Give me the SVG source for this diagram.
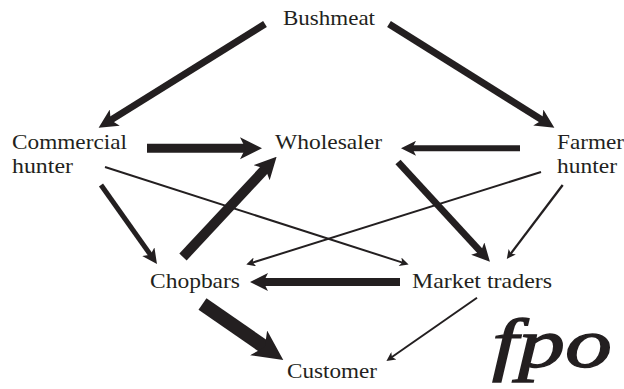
<svg xmlns="http://www.w3.org/2000/svg" width="624" height="389" viewBox="0 0 624 389">
<defs>
<style>
.lbl{font-family:"Liberation Serif","Times New Roman",serif;font-size:21px;fill:#231f20}
.fpo{font-family:"Liberation Serif","Times New Roman",serif;font-size:70px;font-style:italic;font-weight:normal;fill:#231f20;stroke:#231f20;stroke-width:1.3}
.c line{stroke:#231f20;fill:none;stroke-linecap:butt}
.hd{fill:#231f20}
</style>
<marker id="h30" viewBox="0 0 10 10" refX="3" refY="5" markerWidth="30" markerHeight="30" markerUnits="userSpaceOnUse" orient="auto"><path class="hd" d="M0,0 L10,5 L0,10 L2.5,5 Z"/></marker>
<marker id="h22" viewBox="0 0 10 10" refX="3" refY="5" markerWidth="22" markerHeight="23" markerUnits="userSpaceOnUse" orient="auto"><path class="hd" d="M0,0 L10,5 L0,10 L2.5,5 Z"/></marker>
<marker id="h20" viewBox="0 0 10 10" refX="3" refY="5" markerWidth="20" markerHeight="19" markerUnits="userSpaceOnUse" orient="auto"><path class="hd" d="M0,0 L10,5 L0,10 L2.5,5 Z"/></marker>
<marker id="h18" viewBox="0 0 10 10" refX="3" refY="5" markerWidth="18" markerHeight="18" markerUnits="userSpaceOnUse" orient="auto"><path class="hd" d="M0,0 L10,5 L0,10 L2.5,5 Z"/></marker>
<marker id="h15" viewBox="0 0 10 10" refX="3" refY="5" markerWidth="15" markerHeight="15" markerUnits="userSpaceOnUse" orient="auto"><path class="hd" d="M0,0 L10,5 L0,10 L2.5,5 Z"/></marker>
<marker id="h11" viewBox="0 0 10 10" refX="3" refY="5" markerWidth="11" markerHeight="9" markerUnits="userSpaceOnUse" orient="auto"><path class="hd" d="M0,0 L10,5 L0,10 L2.5,5 Z"/></marker>
</defs>
<rect width="624" height="389" fill="#ffffff"/>
<g id="connectors" class="c">
<line x1="265" y1="24" x2="109.9" y2="120.6" stroke-width="7" marker-end="url(#h20)"/>
<line x1="389" y1="24" x2="543.1" y2="120.6" stroke-width="7" marker-end="url(#h20)"/>
<line x1="147" y1="148.3" x2="246.6" y2="148.3" stroke-width="9" marker-end="url(#h22)"/>
<line x1="520" y1="148.3" x2="411.5" y2="148.3" stroke-width="6" marker-end="url(#h15)"/>
<line x1="105" y1="167" x2="402.6" y2="262.6" stroke-width="2" marker-end="url(#h11)"/>
<line x1="541" y1="172" x2="252.3" y2="262.7" stroke-width="2" marker-end="url(#h11)"/>
<line x1="101" y1="185" x2="150.9" y2="255.4" stroke-width="5" marker-end="url(#h15)"/>
<line x1="183" y1="257" x2="266.1" y2="167.9" stroke-width="10" marker-end="url(#h22)"/>
<line x1="398" y1="162" x2="481.4" y2="252.5" stroke-width="7" marker-end="url(#h18)"/>
<line x1="562.7" y1="185" x2="510.6" y2="253.9" stroke-width="2.3" marker-end="url(#h11)"/>
<line x1="400" y1="282" x2="262.6" y2="282" stroke-width="8" marker-end="url(#h18)"/>
<line x1="202.5" y1="304" x2="266" y2="348" stroke-width="14" marker-end="url(#h30)"/>
<line x1="477" y1="297.7" x2="391.6" y2="357.3" stroke-width="2" marker-end="url(#h11)"/>
</g>
<g id="bushmeat"><text class="lbl" x="283" y="25" textLength="92" lengthAdjust="spacingAndGlyphs">Bushmeat</text></g>
<g id="commercial-hunter"><text class="lbl" x="12" y="149" textLength="115" lengthAdjust="spacingAndGlyphs">Commercial</text><text class="lbl" x="12" y="173" textLength="61" lengthAdjust="spacingAndGlyphs">hunter</text></g>
<g id="wholesaler"><text class="lbl" x="275" y="149" textLength="107" lengthAdjust="spacingAndGlyphs">Wholesaler</text></g>
<g id="farmer-hunter"><text class="lbl" x="557" y="149" textLength="67" lengthAdjust="spacingAndGlyphs">Farmer</text><text class="lbl" x="557" y="173" textLength="60" lengthAdjust="spacingAndGlyphs">hunter</text></g>
<g id="chopbars"><text class="lbl" x="150" y="288" textLength="90" lengthAdjust="spacingAndGlyphs">Chopbars</text></g>
<g id="market-traders"><text class="lbl" x="412" y="288" textLength="140" lengthAdjust="spacingAndGlyphs">Market traders</text></g>
<g id="customer"><text class="lbl" x="287" y="378" textLength="90" lengthAdjust="spacingAndGlyphs">Customer</text></g>
<text class="fpo" x="492" y="367" textLength="120" lengthAdjust="spacingAndGlyphs">fpo</text>
</svg>
